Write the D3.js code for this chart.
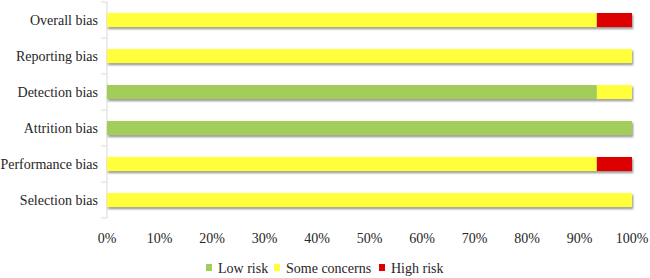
<!DOCTYPE html>
<html>
<head>
<meta charset="utf-8">
<script src="https://cdn.jsdelivr.net/npm/d3@7.9.0/dist/d3.min.js"></script>
<style>
  body { margin: 0; background: #fff; }
</style>
</head>
<body>
<svg id="chart" width="650" height="278"></svg>
<script>
const categories = ['Overall bias', 'Reporting bias', 'Detection bias', 'Attrition bias', 'Performance bias', 'Selection bias'];
const lowRisk = [0, 0, 93.3, 100, 0, 0];
const someConcerns = [93.3, 100, 6.7, 0, 93.3, 100];
const highRisk = [6.7, 0, 0, 0, 6.7, 0];
const seriesNames = ['Low risk', 'Some concerns', 'High risk'];
const tickValues = [0, 10, 20, 30, 40, 50, 60, 70, 80, 90, 100];

const FONT = 'Liberation Serif';
const TEXT_COLOR = '#262626';

const colors = d3.scaleOrdinal()
    .domain(seriesNames)
    .range(['#a3cd5a', '#ffff3a', '#dc0000']);

const svg = d3.select('#chart');
const margin = { top: 2, left: 107, right: 18, bottom: 60 };
const width = 650 - margin.left - margin.right;
const height = 278 - margin.top - margin.bottom;

// soft shadow under each bar
const defs = svg.append('defs');
const filter = defs.append('filter').attr('id', 'shadow')
    .attr('x', '-5%').attr('y', '-30%').attr('width', '110%').attr('height', '180%');
filter.append('feDropShadow')
    .attr('dx', 1).attr('dy', 2).attr('stdDeviation', 1)
    .attr('flood-color', '#000').attr('flood-opacity', 0.45);

const g = svg.append('g').attr('transform', `translate(${margin.left},${margin.top})`);

const x = d3.scaleLinear().domain([0, 100]).range([0, width]);
const y = d3.scaleBand().domain(categories).range([0, height]).paddingInner(0.61).paddingOuter(0.305);
const yOuter = d3.scaleBand().domain(categories).range([0, height]);

let rows = categories.map((c, i) => ({
    category: c,
    'Low risk': lowRisk[i],
    'Some concerns': someConcerns[i],
    'High risk': highRisk[i]
}));
let stacked = d3.stack().keys(seriesNames)(rows);

// y axis line + ticks at band boundaries
g.append('line')
    .attr('x1', 0).attr('x2', 0).attr('y1', 0).attr('y2', height)
    .attr('stroke', '#d9d9d9');
categories.concat([null]).forEach((c, i) => {
    let yy = i * yOuter.bandwidth();
    g.append('line')
        .attr('x1', -6).attr('x2', 0).attr('y1', yy).attr('y2', yy)
        .attr('stroke', '#d9d9d9');
});

// bars, one group per row so the shadow falls under the whole bar
categories.forEach((c, i) => {
    let row = g.append('g').attr('filter', 'url(#shadow)');
    stacked.forEach((layer) => {
        let d = layer[i];
        if (d[1] - d[0] <= 0) return;
        row.append('rect')
            .attr('x', x(d[0]))
            .attr('y', y(c))
            .attr('width', x(d[1]) - x(d[0]))
            .attr('height', y.bandwidth())
            .attr('fill', colors(layer.key));
    });
});

// category labels
g.selectAll('.cat')
    .data(categories)
    .join('text')
    .attr('x', -9)
    .attr('y', (d) => yOuter(d) + yOuter.bandwidth() / 2)
    .attr('dy', '0.35em')
    .attr('text-anchor', 'end')
    .attr('font-family', FONT)
    .attr('font-size', 14)
    .attr('fill', TEXT_COLOR)
    .text((d) => d);

// x tick labels
g.selectAll('.tick-label')
    .data(tickValues)
    .join('text')
    .attr('x', (d) => x(d))
    .attr('y', height + 20)
    .attr('dy', '0.35em')
    .attr('text-anchor', 'middle')
    .attr('font-family', FONT)
    .attr('font-size', 14)
    .attr('fill', TEXT_COLOR)
    .text((d) => `${d}%`);

// legend (item offsets fixed, no text measuring)
const legendX = [0, 68, 173];
const legend = svg.append('g').attr('transform', 'translate(206,268)');
seriesNames.forEach((name, i) => {
    let item = legend.append('g').attr('transform', `translate(${legendX[i]},0)`);
    item.append('rect')
        .attr('x', 0).attr('y', -4).attr('width', 6).attr('height', 7)
        .attr('fill', colors(name));
    item.append('text')
        .attr('x', 12).attr('y', 0).attr('dy', '0.35em')
        .attr('font-family', FONT)
        .attr('font-size', 14)
        .attr('fill', TEXT_COLOR)
        .text(name);
});
</script>
</body>
</html>
